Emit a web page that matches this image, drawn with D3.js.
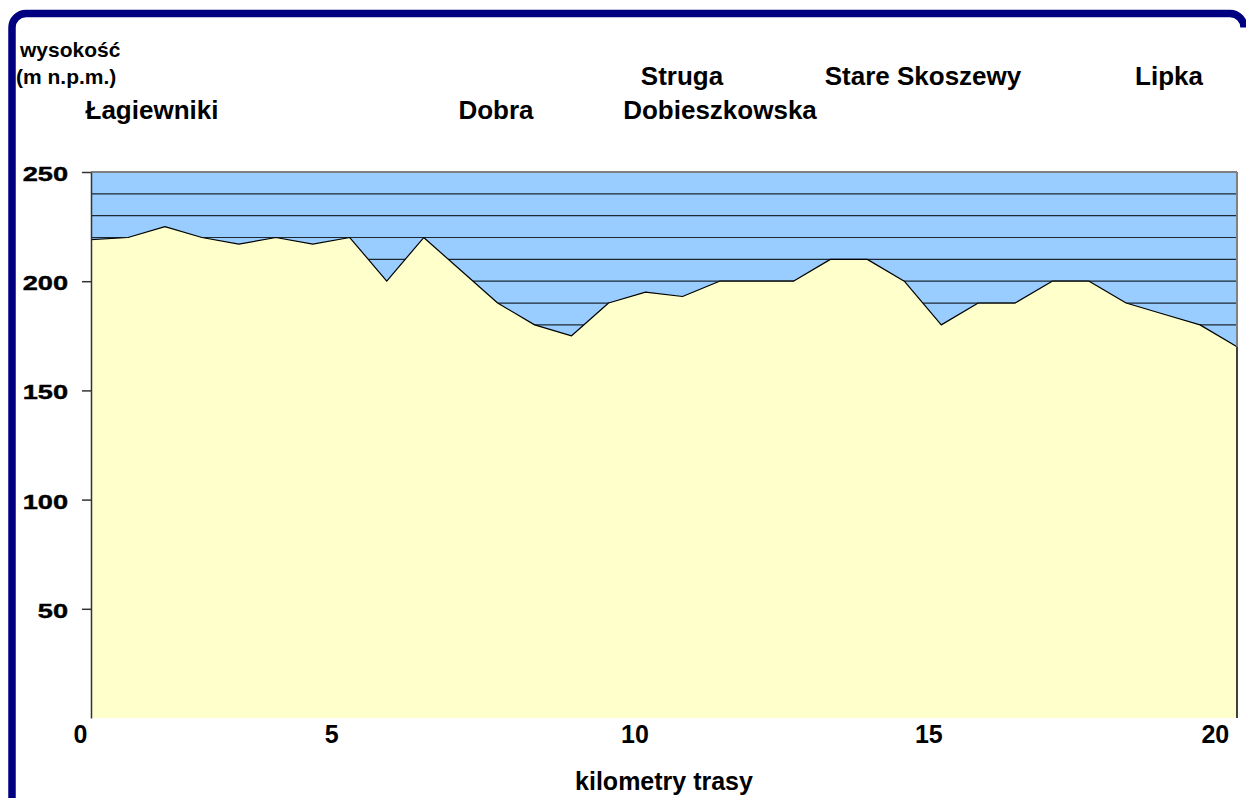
<!DOCTYPE html>
<html>
<head>
<meta charset="utf-8">
<script src="https://cdn.jsdelivr.net/npm/d3@7"></script>
<style>
  body { margin: 0; background: #fff; overflow: hidden; }
  svg text { font-family: "Liberation Sans", Arial, sans-serif; font-weight: bold; fill: #000; }
</style>
</head>
<body>
<div id="wrapper"></div>
<script>
// wysokość co ok. 0,66 km trasy
const elevation = [219, 220, 225, 220, 217, 220, 217, 220, 200, 220, 205, 190, 180, 175, 190, 195,
                   193, 200, 200, 200, 210, 210, 200, 180, 190, 190, 200, 200, 190, 185, 180, 170]
const kmTicks = [0, 5, 10, 15, 20]
const kmTickAt = [-0.3, 6.5, 14.7, 22.65, 30.4]   // index of sample where the km mark falls
const yTicks = [50, 100, 150, 200, 250]
const gridValues = d3.range(10, 250, 10)
const placeNames = ["Łagiewniki", "Dobra", "Struga", "Dobieszkowska", "Stare Skoszewy", "Lipka"]

function drawProfile(dataset) {
    let dimensions = {
        width: 1246,
        height: 798,
        margin: { top: 172, right: 9, bottom: 80, left: 91 },
    }
    dimensions.boundedWidth = dimensions.width - dimensions.margin.left - dimensions.margin.right
    dimensions.boundedHeight = dimensions.height - dimensions.margin.top - dimensions.margin.bottom

    const wrapper = d3.select("#wrapper")
        .append("svg")
        .attr("width", dimensions.width)
        .attr("height", dimensions.height)
        .style("display", "block")

    // granatowa ramka wykresu: lewa i górna krawędź, prawa poza kadrem
    const frame = d3.path()
    frame.moveTo(12, 810)
    frame.lineTo(12, 27.5)
    frame.arcTo(12, 13.5, 26, 13.5, 14)
    frame.lineTo(1230, 13.5)
    frame.arcTo(1244, 13.5, 1244, 27.5, 14)
    wrapper.append("path")
        .attr("d", frame.toString())
        .attr("fill", "none")
        .attr("stroke", "#000080")
        .attr("stroke-width", 7.5)

    const bounds = wrapper.append("g")
        .attr("transform", `translate(${dimensions.margin.left},${dimensions.margin.top})`)

    const xScale = d3.scaleLinear()
        .domain([0, dataset.length - 1])
        .range([0, dimensions.boundedWidth])
    const yScale = d3.scaleLinear()
        .domain([0, 250])
        .range([dimensions.boundedHeight, 0])
    const kmScale = d3.scaleLinear()
        .domain(kmTicks)
        .range(kmTickAt.map(xScale))

    bounds.append("rect")
        .attr("width", dimensions.boundedWidth)
        .attr("height", dimensions.boundedHeight)
        .attr("fill", "#99ccff")

    bounds.append("g")
        .selectAll("line")
        .data(gridValues)
        .join("line")
            .attr("x1", 0).attr("x2", dimensions.boundedWidth)
            .attr("y1", d => yScale(d)).attr("y2", d => yScale(d))
            .attr("stroke", "#1c2833")
            .attr("stroke-width", 1.2)

    const area = d3.area()
        .x((d, i) => xScale(i))
        .y0(yScale(0))
        .y1(d => yScale(d))
    const line = d3.line()
        .x((d, i) => xScale(i))
        .y(d => yScale(d))

    bounds.append("path")
        .attr("d", area(dataset))
        .attr("fill", "#ffffcc")
    bounds.append("path")
        .attr("d", line(dataset))
        .attr("fill", "none")
        .attr("stroke", "#000")
        .attr("stroke-width", 1.2)
        .attr("stroke-linejoin", "round")

    // górna i prawa krawędź obszaru
    bounds.append("line")
        .attr("x1", 0).attr("x2", dimensions.boundedWidth)
        .attr("y1", 0).attr("y2", 0)
        .attr("stroke", "#808080").attr("stroke-width", 2)
    bounds.append("line")
        .attr("x1", dimensions.boundedWidth).attr("x2", dimensions.boundedWidth)
        .attr("y1", 0).attr("y2", yScale(dataset[dataset.length - 1]))
        .attr("stroke", "#808080").attr("stroke-width", 2)
    bounds.append("line")
        .attr("x1", dimensions.boundedWidth).attr("x2", dimensions.boundedWidth)
        .attr("y1", yScale(dataset[dataset.length - 1])).attr("y2", dimensions.boundedHeight)
        .attr("stroke", "#000").attr("stroke-width", 1.5)

    const yAxis = bounds.append("g")
        .call(d3.axisLeft(yScale)
            .tickValues(yTicks)
            .tickSize(9)
            .tickSizeOuter(0)
            .tickPadding(14))
    yAxis.selectAll("path, line").attr("stroke", "#333").attr("stroke-width", 1.5)
    yAxis.selectAll("text")
        .attr("font-size", 20)
        .attr("dy", "0.42em")
        .attr("fill", "#000")
        .attr("stroke", "#000")
        .attr("stroke-width", 0.4)
        .each(function() {
            const len = this.getComputedTextLength()
            d3.select(this).attr("textLength", len * 1.36).attr("lengthAdjust", "spacingAndGlyphs")
        })
    yAxis.attr("font-family", null)

    const xAxis = bounds.append("g")
        .attr("transform", `translate(0,${dimensions.boundedHeight})`)
        .call(d3.axisBottom(kmScale)
            .tickValues(kmTicks)
            .tickSize(0)
            .tickPadding(7))
    xAxis.select(".domain").remove()
    xAxis.selectAll("text").attr("font-size", 25).attr("fill", "#000")
    xAxis.attr("font-family", null)

    wrapper.append("text")
        .attr("x", 664).attr("y", 790)
        .attr("text-anchor", "middle")
        .attr("font-size", 25)
        .text("kilometry trasy")

    wrapper.append("text")
        .attr("x", 20).attr("y", 57)
        .attr("font-size", 21)
        .text("wysokość")
    wrapper.append("text")
        .attr("x", 16).attr("y", 84)
        .attr("font-size", 21)
        .text("(m n.p.m.)")

    const placeSpots = [[152, 119], [496, 119], [682, 85], [720, 119], [923, 85], [1169, 85]]
    wrapper.append("g")
        .selectAll("text")
        .data(placeNames)
        .join("text")
            .attr("x", (d, i) => placeSpots[i][0])
            .attr("y", (d, i) => placeSpots[i][1])
            .attr("text-anchor", "middle")
            .attr("font-size", 26)
            .text(d => d)
}

drawProfile(elevation)
</script>
</body>
</html>
